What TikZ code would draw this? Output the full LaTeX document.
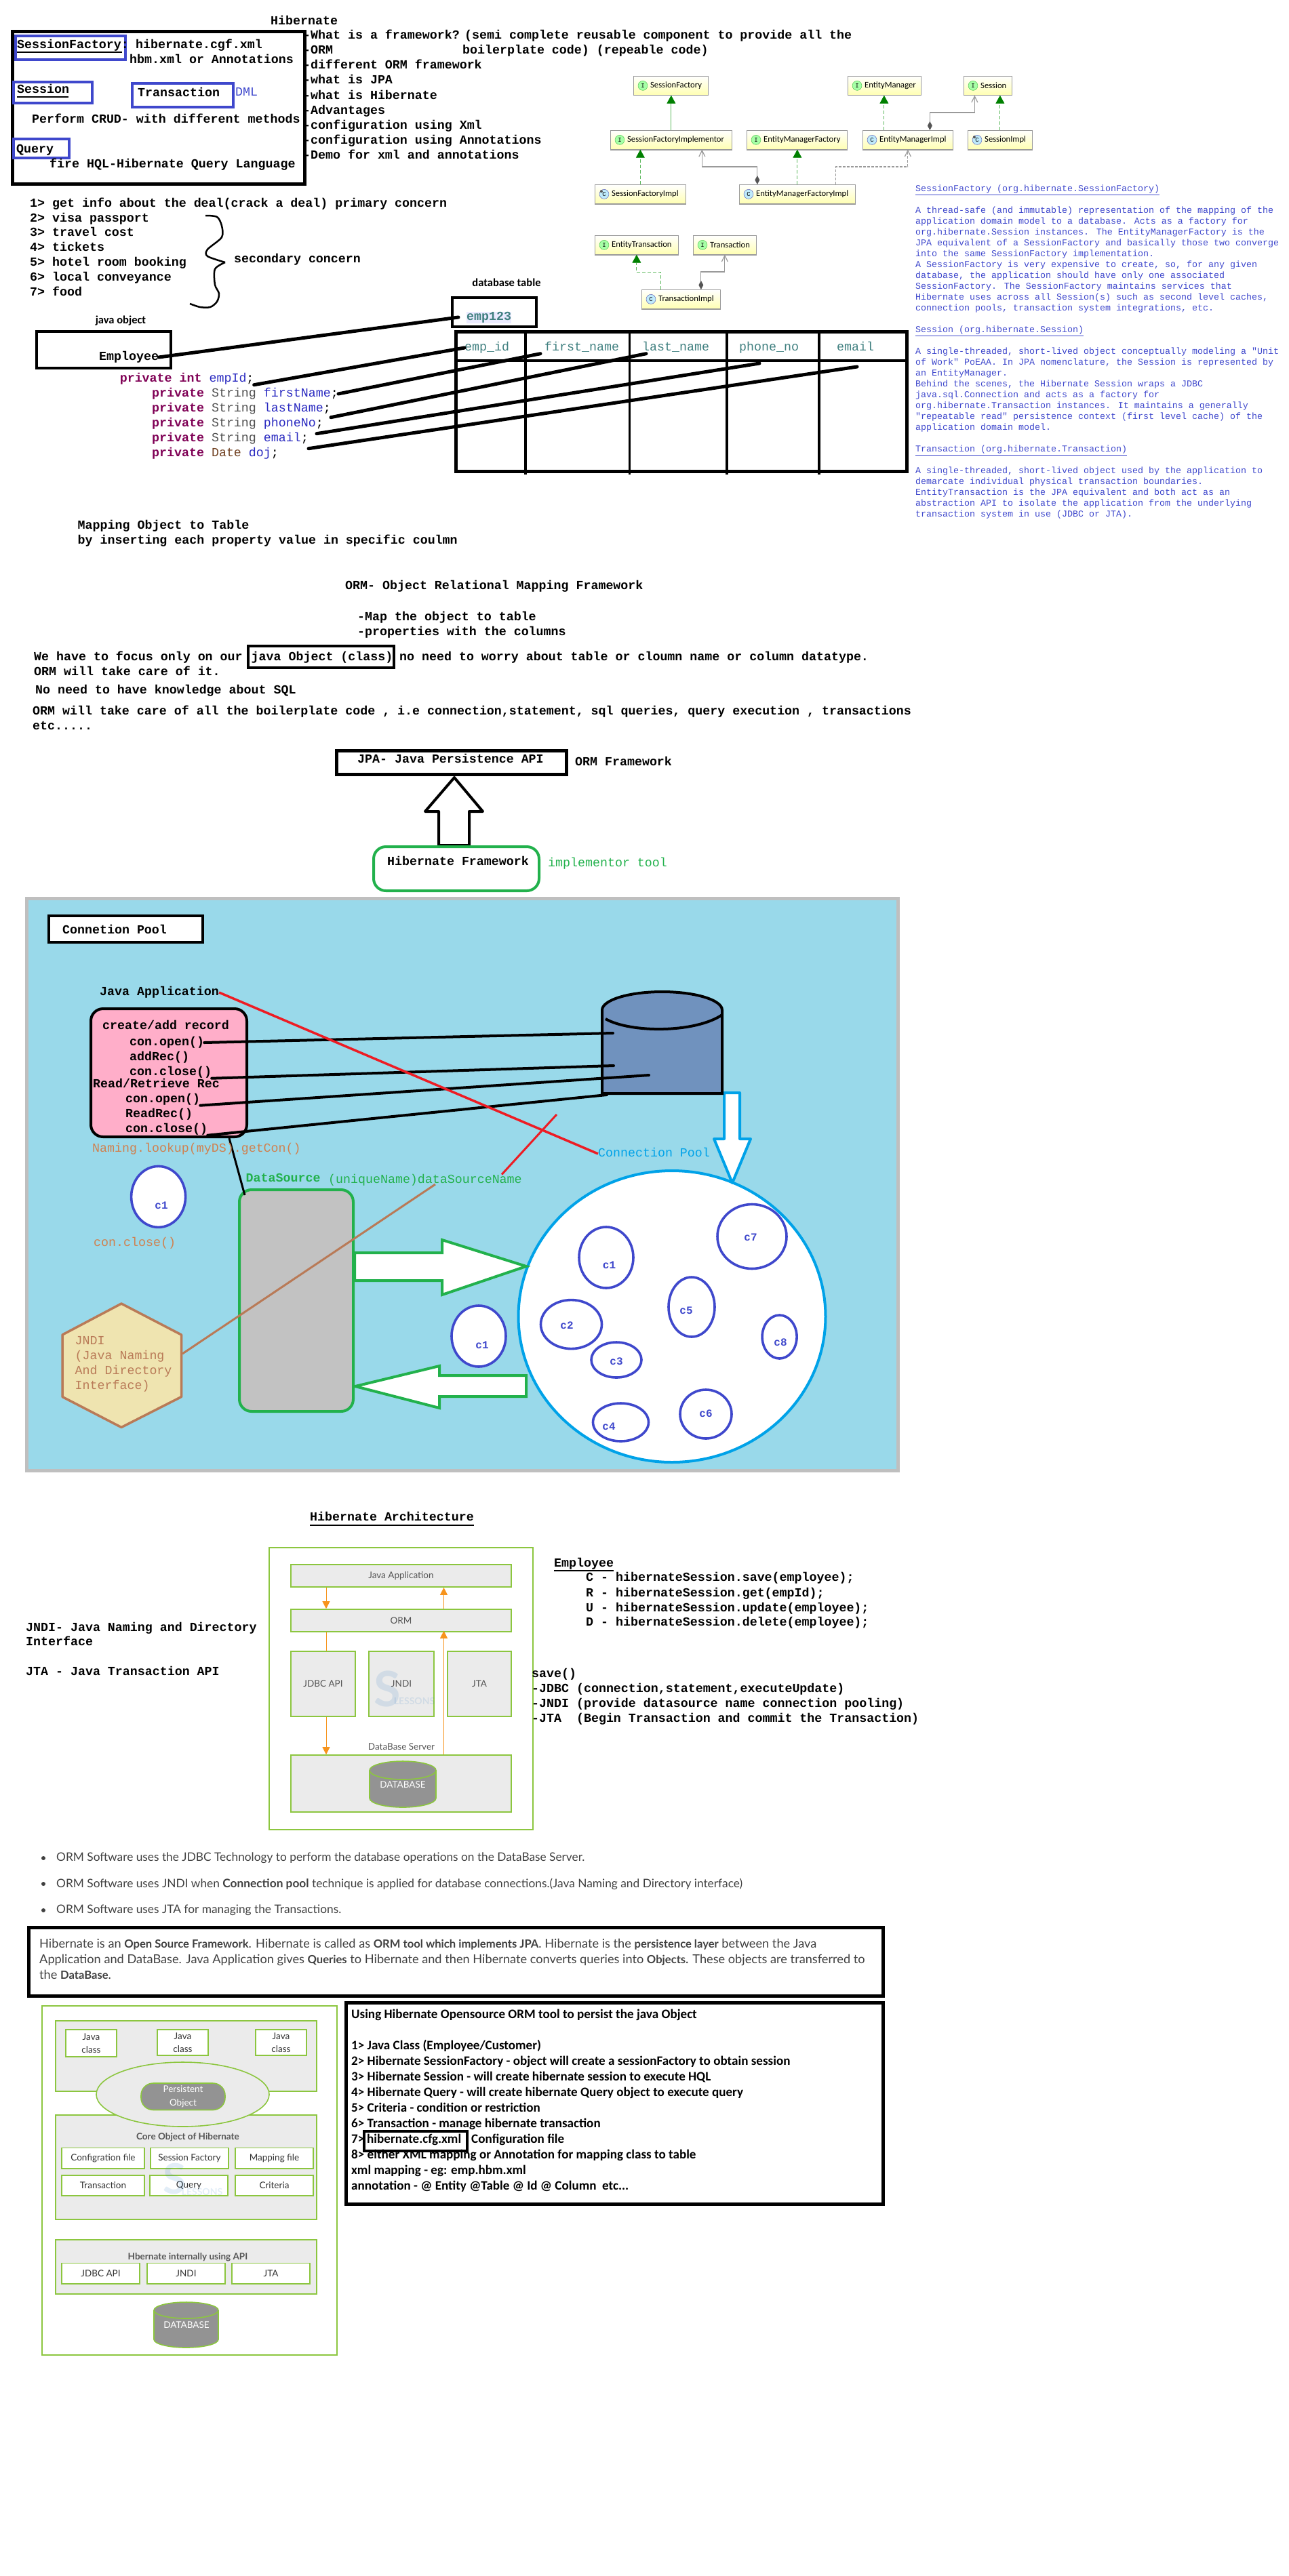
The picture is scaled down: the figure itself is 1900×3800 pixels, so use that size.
\documentclass[tikz,border=0pt]{standalone}
\usepackage{fontspec}
\usetikzlibrary{arrows.meta, shapes.geometric}
\newfontfamily\courfont{Liberation Mono}
\newfontfamily\calfont{Carlito}
\newfontfamily\latofont{Lato}
\newcommand{\sumbold}[1]{{\bfseries\fontsize{16.6}{20}\selectfont #1}}
\definecolor{markblue}{HTML}{3F48CC}
\definecolor{notegreen}{HTML}{22B14C}
\definecolor{poolblue}{HTML}{00A2E8}
\definecolor{poolback}{HTML}{99D9EA}
\definecolor{poolbrown}{HTML}{B97A57}
\definecolor{lookuptext}{HTML}{D0814F}
\definecolor{tealtext}{HTML}{3F7F7F}
\definecolor{javakw}{HTML}{7F0055}
\definecolor{javatype}{HTML}{505050}
\definecolor{javafield}{HTML}{2A2AC0}
\definecolor{javadate}{HTML}{704020}
\definecolor{umlline}{HTML}{5CB85C}
\definecolor{umlhead}{HTML}{008000}
\definecolor{umlgrey}{HTML}{9A9A9A}
\definecolor{umldark}{HTML}{555555}
\definecolor{slgreen}{HTML}{8CC63F}
\definecolor{slgrey}{HTML}{EBEBEB}
\definecolor{sldrum}{HTML}{939393}
\definecolor{slorange}{HTML}{F7941D}
\definecolor{bodygrey}{HTML}{404040}
\definecolor{drumblue}{HTML}{7092BE}
\definecolor{apppink}{HTML}{FFAEC9}
\definecolor{hexfill}{HTML}{EFE4B0}
\definecolor{crossred}{HTML}{ED1C24}
\tikzset{
  monotext/.style={inner sep=0pt, anchor=west, text height=13pt, text depth=4pt,
    font=\courfont\bfseries\fontsize{18.3}{22}\selectfont},
  javatext/.style={monotext, font=\courfont\fontsize{18.3}{22}\selectfont},
  coltext/.style={javatext, text=tealtext},
  heavybox/.style={draw, line width=5pt, inner sep=0pt},
  bluebox/.style={draw=markblue, line width=4.5pt, inner sep=0pt},
  heavyline/.style={line width=5pt, line cap=round},
  blacklink/.style={line width=4pt, line cap=round},
  smallhead/.style={inner sep=0pt, font=\calfont\bfseries\fontsize{16.5}{20}\selectfont},
  classbox/.style={draw=umlgrey, line width=.7pt, top color=white, bottom color=yellow!30,
    minimum height=28pt, inner sep=0pt, anchor=north west},
  classname/.style={inner sep=0pt, anchor=west, font=\calfont\fontsize{12.6}{16}\selectfont},
  iconI/.style={circle, draw=green!50!gray, fill=green!35!white, minimum size=14pt, inner sep=0pt,
    font=\courfont\fontsize{9}{9}\selectfont},
  iconC/.style={circle, draw=blue!40!gray, fill=cyan!25!white, minimum size=14pt, inner sep=0pt,
    font=\courfont\fontsize{9}{9}\selectfont},
  iconmark/.style={circle, fill=umldark, minimum size=4pt, inner sep=0pt},
  umlreal/.style={draw=umlline, line width=.8pt,
    -{Triangle[length=12pt,width=13pt,color=umlhead]}},
  umlimpl/.style={umlreal, dash pattern=on 5pt off 3pt},
  umlcomp/.style={draw=umlgrey, line width=1.2pt,
    {Diamond[length=13pt,width=7pt,color=umldark]}-{Straight Barb[length=9pt,width=9pt,color=umlgrey]}},
  umldep/.style={draw=umlgrey, line width=1.2pt, dash pattern=on 4pt off 2pt,
    -{Straight Barb[length=9pt,width=9pt,color=umlgrey]}},
  notetext/.style={inner sep=0pt, anchor=north west, align=left, text=markblue,
    font=\courfont\fontsize{13.33}{16}\selectfont},
  poolconn/.style={ellipse, draw=markblue, line width=3.6pt, fill=white, inner sep=0pt},
  poolname/.style={inner sep=0pt, text=markblue, font=\courfont\bfseries\fontsize{16}{18}\selectfont},
  slbox/.style={rectangle, draw=slgreen, line width=1.6pt, fill=slgrey, inner sep=0pt,
    text=umldark, font=\latofont\fontsize{13.5}{17}\selectfont},
  slwhite/.style={slbox, fill=white, text=black!80, align=center},
  sldrumline/.style={draw=slgreen, line width=1.6pt},
  sldrumtext/.style={inner sep=0pt, text=white, font=\latofont\fontsize{13.5}{17}\selectfont},
  slhead/.style={inner sep=0pt, text=umldark, font=\latofont\bfseries\fontsize{13.5}{17}\selectfont},
  slarrow/.style={draw=slorange, line width=1pt, -{Triangle[length=11pt,width=11pt,color=slorange]}},
  slmark/.style={inner sep=0pt, text=cyan!50!blue, text opacity=.12},
  bullettext/.style={inner sep=0pt, anchor=west, text=bodygrey,
    font=\latofont\fontsize{17.3}{20}\selectfont},
  summarytext/.style={bullettext, font=\latofont\fontsize{18.2}{20}\selectfont},
  stepline/.style={inner sep=0pt, anchor=west, text height=13pt, text depth=4pt,
    font=\calfont\bfseries\fontsize{19.1}{23}\selectfont},
}
\begin{document}
\begin{tikzpicture}[x=1pt,y=-1pt]
\useasboundingbox (0,0) rectangle (1900,3800);

% Top box with the core objects
\node[monotext] (mainTitle) at (399,32) {Hibernate};
\node[heavybox, minimum width=431pt, minimum height=225pt] (coreBox) at (234,159) {};
\node[bluebox, minimum width=162pt, minimum height=35pt] (factoryBox) at (104,70.5) {};
\node[bluebox, minimum width=116pt, minimum height=31pt] (sessionBox) at (78,136.5) {};
\node[bluebox, minimum width=149pt, minimum height=35pt] (transBox) at (269.5,140.5) {};
\node[bluebox, minimum width=82pt, minimum height=28pt] (queryBox) at (61,219) {};
\node[monotext] (factoryText) at (25,67) {SessionFactory:};
\draw[line width=1.6pt] (25,77) -- (180,77);
\node[monotext] (cfgText) at (200,67) {hibernate.cgf.xml};
\node[monotext] (hbmText) at (191,89) {hbm.xml or Annotations};
\node[monotext] (sessionText) at (25,133) {Session};
\draw[line width=1.6pt] (25,143) -- (101,143);
\node[monotext] (transText) at (203,138) {Transaction};
\node[javatext, text=markblue] (dmlText) at (347,137) {DML};
\node[monotext] (crudText) at (47,177) {Perform CRUD- with different methods};
\node[monotext] (queryText) at (24,221) {Query};
\node[monotext] (fireText) at (73,243) {fire HQL-Hibernate Query Language};

% Topics
\foreach \y/\txt [count=\i] in {53/{-What is a framework?},75/-ORM,97/-different ORM framework,
    119/-what is JPA,142/-what is Hibernate,164/-Advantages,186/-configuration using Xml,
    208/-configuration using Annotations,230/-Demo for xml and annotations}
  \node[monotext] (topic\i) at (447,\y) {\txt};
\node[monotext] (topicSemi) at (685,53) {(semi complete reusable component to provide all the};
\node[monotext] (topicBoiler) at (682,75) {boilerplate code) (repeable code)};

% Concerns
\foreach \y/\txt [count=\i] in {301/1> get info about the deal(crack a deal) primary concern,
    323/2> visa passport,344/3> travel cost,366/4> tickets,388/5> hotel room booking,
    410/6> local conveyance,432/7> food}
  \node[monotext] (concern\i) at (44,\y) {\txt};
\draw[line width=2.5pt] plot[smooth] coordinates {(303,318) (320,320) (327,333) (327,350) (306,368) (306,378) (332,387)};
\draw[line width=2.5pt] plot[smooth] coordinates {(332,387) (317,397) (317,420) (323,433) (320,445) (310,453) (295,453) (280,448)};
\node[monotext] (secondary) at (345,383) {secondary concern};

% Object to table
\node[smallhead] (dbHead) at (747,417) {database table};
\node[smallhead] (javaHead) at (178,473) {java object};
\node[heavybox, line width=4pt, minimum width=198pt, minimum height=54pt] (employeeBox) at (153,516) {};
\node[monotext] (employeeText) at (146,527) {Employee};
\node[heavybox, line width=4pt, minimum width=124pt, minimum height=43pt] (rowBox) at (729,460.5) {};
\node[monotext, fill=blue!8, text=tealtext] (rowText) at (688,468) {emp123};
\node[heavybox, minimum width=665pt, minimum height=206pt] (tableBox) at (1004.5,592) {};
\draw[line width=4.5pt] (672,532) -- (1339,532);
\foreach \x in {775,928.5,1072,1208}
  \draw[line width=3.5pt] (\x,489) -- (\x,700);
\foreach \nm/\x/\txt in {colId/685/emp\_id,colFirst/803/first\_name,colLast/947/last\_name,
    colPhone/1090/phone\_no,colMail/1234/email}
  \node[coltext] (\nm) at (\x,513) {\txt};
\node[javatext] (fieldId) at (176.6,559) {\textcolor{javakw}{\bfseries private int} \textcolor{javafield}{empId};};
\foreach \nm/\y/\txt in {fieldFirst/581/firstName,fieldLast/603/lastName,fieldPhone/625/phoneNo,fieldMail/647/email}
  \node[javatext] (\nm) at (224,\y) {\textcolor{javakw}{\bfseries private} \textcolor{javatype}{String} \textcolor{javafield}{\txt};};
\node[javatext] (fieldDate) at (224,669) {\textcolor{javakw}{\bfseries private} \textcolor{javadate}{Date} \textcolor{javafield}{doj};};
\coordinate (phoneEnd) at (1120,536);
\coordinate (mailEnd) at (1264,541);
\draw[heavyline] (employeeText.east) -- ([xshift=-12pt]rowText.west);
\draw[heavyline] (fieldId.south east) -- (colId.west);
\draw[heavyline] (fieldFirst.east) -- ([xshift=-6pt]colFirst.south west);
\draw[heavyline] ([yshift=-4pt]fieldLast.south east) -- ([xshift=6pt]colLast.south west);
\draw[heavyline] ([xshift=-10pt,yshift=-6pt]fieldPhone.south east) -- (phoneEnd);
\draw[heavyline] ([yshift=-6pt]fieldMail.south east) -- (mailEnd);
\node[monotext] (mapOne) at (114.5,776) {Mapping Object to Table};
\node[monotext] (mapTwo) at (114.5,798) {by inserting each property value in specific coulmn};

% Class diagram
\foreach \nm/\x/\y/\w/\kd/\txt in {sfac/934/112/110/I/SessionFactory,em/1250/112/108/I/EntityManager,
    sess/1421/112/71/I/Session,sfi/900/192/179/I/SessionFactoryImplementor,
    emf/1101/192/148/I/EntityManagerFactory,emi/1272/192/133/C/EntityManagerImpl,
    simpl/1427/192/95/C/SessionImpl,sfimpl/877/272/134/C/SessionFactoryImpl,
    emfi/1090/272/171/C/EntityManagerFactoryImpl,etx/877/347/123/I/EntityTransaction,
    tx/1022/347/93/I/Transaction,timpl/946/427/116/C/TransactionImpl} {
  \node[classbox, minimum width=\w pt] (\nm) at (\x,\y) {};
  \draw[umlgrey, line width=1.6pt] (\nm.south west) -- (\nm.south east);
  \node[icon\kd] (\nm Icon) at ([xshift=14pt]\nm.west) {\kd};
  \node[classname] (\nm Name) at ([xshift=25pt]\nm.west) {\txt};
}
\foreach \nm in {sfimpl,simpl}
  \node[iconmark] (\nm Mark) at ([shift={(1pt,-1pt)}]\nm Icon.north west) {};
\draw[umlreal] (sfi.north) -- (sfi.north |- sfac.south);
\draw[umlimpl] ([xshift=-35pt]emi.north) -- ([xshift=-35pt]emi.north |- em.south);
\draw[umlimpl] (simpl.north) -- (simpl.north |- sess.south);
\draw[umlimpl] (sfimpl.north) -- (sfimpl.north |- sfi.south);
\draw[umlimpl] (emfi.north) -- (emfi.north |- emf.south);
\draw[umlcomp] ([xshift=32.5pt]emi.north) -- ++(0,-26) -| ([xshift=-19.5pt]sess.south);
\draw[umlcomp] ([xshift=-59pt]emfi.north) -- ++(0,-26) -| ([xshift=45.5pt]sfi.south);
\draw[umldep] ([xshift=57pt]emfi.north) -- ++(0,-26) -| (emi.south);
\draw[umlimpl] ([xshift=-30pt]timpl.north) -- ++(0,-26) -| (etx.south);
\draw[umlcomp] ([xshift=29.5pt]timpl.north) -- ++(0,-26) -| (tx.south);

% Notes on the right
\node[notetext] (noteText) at (1350,273) {\underline{SessionFactory (org.hibernate.SessionFactory)}\\[16pt]
A thread-safe (and immutable) representation of the mapping of the\\
application domain model to a database. Acts as a factory for\\
org.hibernate.Session instances. The EntityManagerFactory is the\\
JPA equivalent of a SessionFactory and basically those two converge\\
into the same SessionFactory implementation.\\
A SessionFactory is very expensive to create, so, for any given\\
database, the application should have only one associated\\
SessionFactory. The SessionFactory maintains services that\\
Hibernate uses across all Session(s) such as second level caches,\\
connection pools, transaction system integrations, etc.\\[16pt]
\underline{Session (org.hibernate.Session)}\\[16pt]
A single-threaded, short-lived object conceptually modeling a "Unit\\
of Work" PoEAA. In JPA nomenclature, the Session is represented by\\
an EntityManager.\\
Behind the scenes, the Hibernate Session wraps a JDBC\\
java.sql.Connection and acts as a factory for\\
org.hibernate.Transaction instances. It maintains a generally\\
"repeatable read" persistence context (first level cache) of the\\
application domain model.\\[16pt]
\underline{Transaction (org.hibernate.Transaction)}\\[16pt]
A single-threaded, short-lived object used by the application to\\
demarcate individual physical transaction boundaries.\\
EntityTransaction is the JPA equivalent and both act as an\\
abstraction API to isolate the application from the underlying\\
transaction system in use (JDBC or JTA).};

% ORM text
\node[monotext] (ormTitle) at (509,865) {ORM- Object Relational Mapping Framework};
\node[monotext] (ormMap) at (527,911) {-Map the object to table};
\node[monotext] (ormProp) at (527,933) {-properties with the columns};
\node[monotext] (focusText) at (50,970) {We have to focus only on our};
\node[heavybox, line width=4.5pt, minimum width=215pt, minimum height=32pt] (javaObjBox) at (473.5,969) {};
\node[monotext] (javaObjText) at (370.5,970) {java Object (class)};
\node[monotext] (worryText) at (589,970) {no need to worry about table or cloumn name or column datatype.};
\node[monotext] (careText) at (50,992) {ORM will take care of it.};
\node[monotext] (sqlText) at (52,1019) {No need to have knowledge about SQL};
\node[monotext] (plateText) at (48,1050) {ORM will take care of all the boilerplate code , i.e connection,statement, sql queries, query execution , transactions};
\node[monotext] (etcText) at (48,1072) {etc.....};
\node[heavybox, minimum width=339pt, minimum height=35pt] (jpaBox) at (666,1125) {};
\node[monotext] (jpaText) at (527,1121) {JPA- Java Persistence API};
\node[monotext] (jpaNote) at (848,1125) {ORM Framework};
\draw[line width=4pt, fill=white, line join=round] (670,1147) -- (712,1197) -- (692,1197) -- (692,1247)
  -- (647,1247) -- (647,1197) -- (627,1197) -- cycle;
\node[draw=notegreen, line width=4pt, rounded corners=18pt, minimum width=244pt, minimum height=65pt, inner sep=0pt] (hibBox) at (673,1281.5) {};
\node[monotext] (hibText) at (571,1272) {Hibernate Framework};
\node[javatext, text=notegreen] (hibNote) at (808,1274) {implementor tool};

% Connection pool panel
\node[draw=black!25, line width=5pt, fill=poolback, minimum width=1285pt, minimum height=844pt, inner sep=0pt] (poolPanel) at (681.5,1747) {};
\node[heavybox, line width=4.5pt, fill=white, minimum width=227pt, minimum height=39pt] (poolTitleBox) at (185.5,1370.5) {};
\node[monotext] (poolTitle) at (92,1373) {Connetion Pool};
\node[draw=poolblue, line width=4pt, ellipse, fill=white, minimum width=453pt, minimum height=430pt, inner sep=0pt] (poolCircle) at (991,1942) {};
\foreach \nm/\x/\y/\w/\h/\tx/\ty/\txt in {conA/233.6/1765.4/80/90/238/1778/c1,conB/706/1971/80/90/711/1984/c1,
    conC/894/1855/80/90/898.5/1866/c1,conD/842.5/1953.6/90/72/836/1955/c2,conE/909/2006/74/52/909/2008/c3,
    conF/915.5/2098/82/56/898/2104/c4,conG/1020/1928/68/88/1012/1933/c5,conH/1041/2086/76/72/1041/2085/c6,
    conI/1109/1824/102/95/1107/1825/c7,conJ/1149.6/1972/51/64/1151/1980/c8} {
  \node[poolconn, minimum width=\w pt, minimum height=\h pt] (\nm) at (\x,\y) {};
  \node[poolname] (\nm Text) at (\tx,\ty) {\txt};
}
\draw[draw=poolblue, line width=4pt, fill=white, line join=round] (1068,1612) -- (1068,1680) -- (1053,1680)
  -- (1080,1745) -- (1107,1680) -- (1091,1680) -- (1091,1612) -- cycle;
\draw[draw=notegreen, line width=4pt, fill=white] (523,1848) -- (652,1848) -- (652,1829) -- (776,1868)
  -- (652,1910) -- (652,1889) -- (523,1889) -- cycle;
\draw[draw=notegreen, line width=4pt, fill=white] (776,2029) -- (648,2029) -- (648,2015) -- (524,2045)
  -- (648,2077) -- (648,2060) -- (776,2060) -- cycle;
\node[draw=notegreen, line width=4pt, fill=black!24, rounded corners=18pt, minimum width=168pt, minimum height=327pt, inner sep=0pt] (dsBox) at (437,1918.5) {};

% Database drum
\draw[line width=4pt, fill=drumblue] (888,1490) -- (888,1613) -- (1065,1613) -- (1065,1490)
  arc[start angle=0, end angle=180, x radius=88.5pt, y radius=27pt] -- cycle;
\draw[line width=4pt] (893,1503) .. controls (930,1524) and (1025,1524) .. (1065,1497);
\coordinate (drumA) at (904,1524);
\coordinate (drumB) at (905,1572);
\coordinate (drumC) at (957,1586);
\coordinate (drumD) at (895,1615);

% Application box
\node[draw, line width=4pt, fill=apppink, rounded corners=18pt, minimum width=230pt, minimum height=189pt, inner sep=0pt] (appBox) at (249,1582.5) {};
\node[monotext] (appTitle) at (147,1464) {Java Application};
\foreach \nm/\x/\y/\txt in {addTitle/151/1514/{create/add record},openA/191/1538/con.open(),addRec/191/1560/addRec(),
    closeA/191/1582/con.close(),readTitle/137/1600/{Read/Retrieve Rec},openB/185/1622/con.open(),
    readRec/185/1644/ReadRec(),closeB/185/1666/con.close()}
  \node[monotext] (\nm) at (\x,\y) {\txt};
\draw[blacklink] (openA.east) -- (drumA);
\draw[blacklink] (closeA.south east) -- (drumB);
\draw[blacklink] (openB.south east) -- (drumC);
\draw[blacklink] (closeB.south east) -- (drumD);
\draw[line width=3pt] (338,1679) -- (361,1763);

% Labels and red marks
\node[javatext, text=lookuptext] (lookupText) at (136,1695) {Naming.lookup(myDS).getCon()};
\node[javatext, text=lookuptext] (closeText) at (138,1834) {con.close()};
\node[monotext, text=notegreen] (dsText) at (362.5,1738.5) {DataSource};
\node[javatext, text=notegreen] (dsName) at (484,1741) {(uniqueName)dataSourceName};
\node[javatext, text=poolblue] (poolName) at (882,1702) {Connection Pool};
\draw[draw=crossred, line width=3.5pt] (appTitle.east) -- (poolName.west);
\coordinate (strikeEnd) at (821,1644);
\coordinate (strikeStart) at (740,1732.5);
\draw[draw=crossred, line width=3pt] (strikeStart) -- (strikeEnd);
\draw[draw=poolbrown, line width=3.5pt, fill=hexfill, line join=round] (179,1923) -- (267.5,1969) -- (267.5,2060.5)
  -- (179,2105.5) -- (92,2060.5) -- (92,1969) -- cycle;
\coordinate (hexEnd) at (269,1997);
\coordinate (nameEnd) at (642,1747);
\draw[draw=poolbrown, line width=3pt] (hexEnd) -- (nameEnd);
\foreach \y/\txt [count=\i] in {1979/JNDI,2001/(Java Naming,2023/And Directory,2045/Interface)}
  \node[javatext, text=poolbrown] (jndiLine\i) at (110.5,\y) {\txt};

% Hibernate architecture
\node[monotext] (archTitle) at (457,2239) {Hibernate Architecture};
\draw[line width=2pt] (archTitle.west |- 0,2250) -- (archTitle.east |- 0,2250);
\node[draw=slgreen, line width=1.6pt, minimum width=389pt, minimum height=416pt, inner sep=0pt] (archOuter) at (591.5,2491) {};
\node[slbox, minimum width=325pt, minimum height=33pt] (japp) at (591.5,2324.5) {Java Application};
\node[slbox, minimum width=325pt, minimum height=33pt] (ormbox) at (591.5,2390.5) {ORM};
\node[slbox, minimum width=95pt, minimum height=96pt] (jdbcbox) at (476.5,2484) {JDBC API};
\node[slbox, minimum width=96pt, minimum height=96pt] (jndibox) at (592,2484) {JNDI};
\node[slbox, minimum width=94pt, minimum height=96pt] (jtabox) at (707,2484) {JTA};
\node[slbox, minimum width=325pt, minimum height=84pt] (dbbox) at (591.5,2631) {};
\node[inner sep=0pt, text=umldark, font=\latofont\fontsize{13.5}{17}\selectfont] (dbServer) at (592,2577) {DataBase Server};
\draw[sldrumline, fill=sldrum] (545,2611.5) -- (545,2652.5) arc[start angle=180, end angle=360, x radius=49pt, y radius=13.5pt]
  -- (643,2611.5) arc[start angle=0, end angle=180, x radius=49pt, y radius=13.5pt] -- cycle;
\draw[sldrumline] (545,2611.5) arc[start angle=180, end angle=360, x radius=49pt, y radius=13.5pt];
\node[sldrumtext] (dbDrum) at (594,2633) {DATABASE};
\node[slmark, font=\latofont\bfseries\fontsize{72}{72}\selectfont] (markS) at (571,2491) {S};
\node[slmark, font=\latofont\bfseries\fontsize{14}{14}\selectfont] (markL) at (611,2509) {LESSONS};
\draw[slarrow] ([xshift=-110.5pt]japp.south) -- ([xshift=-110.5pt]ormbox.north);
\draw[slarrow] ([xshift=63pt]ormbox.north) -- ([xshift=63pt]japp.south);
\draw[draw=slorange, line width=1pt] ([xshift=-110.5pt]ormbox.south) -- ([xshift=4.5pt]jdbcbox.north);
\draw[slarrow] ([xshift=4.5pt]jdbcbox.south) -- ([xshift=-110.5pt]dbbox.north);
\draw[slarrow] ([xshift=63pt]dbbox.north) -- ([xshift=63pt,yshift=2pt]ormbox.south);
\node[monotext] (empHead) at (817,2307) {Employee};
\draw[line width=2pt] (empHead.west |- 0,2317) -- (empHead.east |- 0,2317);
\foreach \y/\txt [count=\i] in {2328/C - hibernateSession.save(employee);,2351/R - hibernateSession.get(empId);,
    2373/U - hibernateSession.update(employee);,2394/D - hibernateSession.delete(employee);}
  \node[monotext] (crud\i) at (864,\y) {\txt};
\node[monotext] (jndiNoteA) at (38,2402) {JNDI- Java Naming and Directory};
\node[monotext] (jndiNoteB) at (38,2423) {Interface};
\node[monotext] (jtaNote) at (38,2467) {JTA - Java Transaction API};
\node[monotext] (saveHead) at (784,2470) {save()};
\node[monotext] (saveA) at (784,2492) {-JDBC (connection,statement,executeUpdate)};
\node[monotext] (saveB) at (784,2514) {-JNDI (provide datasource name connection pooling)};
\node[monotext] (saveC) at (784,2536) {-JTA\ \ (Begin Transaction and commit the Transaction)};

% Bullets
\foreach \y/\txt [count=\i] in {2741/ORM Software uses the JDBC Technology to perform the database operations on the DataBase Server.,
    2779/ORM Software uses JNDI when \textbf{Connection pool} technique is applied for database connections.(Java Naming and Directory interface),
    2818/ORM Software uses JTA for managing the Transactions.} {
  \node[circle, fill=black!75, minimum size=6pt, inner sep=0pt] (dot\i) at (64,\y) {};
  \node[bullettext] (point\i) at (83,\y) {\txt};
}
\node[heavybox, minimum width=1260pt, minimum height=101pt] (summaryBox) at (672.5,2894) {};
\node[summarytext] (summaryA) at (58,2868) {Hibernate is an \sumbold{Open Source Framework}. Hibernate is called as \sumbold{ORM tool which implements JPA}. Hibernate is the \sumbold{persistence layer} between the Java};
\node[summarytext] (summaryB) at (58,2891) {Application and DataBase. Java Application gives \sumbold{Queries} to Hibernate and then Hibernate converts queries into \sumbold{Objects.} These objects are transferred to};
\node[summarytext] (summaryC) at (58,2913) {the \sumbold{DataBase}.};

% Core objects figure
\node[draw=slgreen, line width=1.6pt, minimum width=435pt, minimum height=515pt, inner sep=0pt] (coreOuter) at (279.5,3216.5) {};
\node[slbox, minimum width=385pt, minimum height=104pt] (layerA) at (274.5,3033) {};
\node[slbox, minimum width=385pt, minimum height=154pt] (layerB) at (274.5,3197) {};
\node[slbox, minimum width=385pt, minimum height=80pt] (layerC) at (274.5,3344) {};
\node[slbox, ellipse, minimum width=255pt, minimum height=95pt] (persistOval) at (269.5,3089.5) {};
\node[slbox, rounded corners=18pt, fill=sldrum, text=white, align=center, minimum width=124pt, minimum height=39.5pt, font=\latofont\fontsize{13.5}{19.5}\selectfont] (persistBox) at (270,3092.75) {Persistent\\Object};
\foreach \nm/\x/\y/\w/\h in {classA/134.5/3014/75/40,classB/269.5/3013/75/38,classC/414.5/3013/75/38}
  \node[slwhite, minimum width=\w pt, minimum height=\h pt, font=\latofont\fontsize{13.5}{19}\selectfont] (\nm) at (\x,\y) {Java\\class};
\node[slhead] (coreHead) at (277,3153) {Core Object of Hibernate};
\node[slhead] (apiHead) at (277,3330) {Hbernate internally using API};
\foreach \nm/\x/\y/\w/\txt in {cfgCell/152/3183.75/122/Configration file,factoryCell/279.5/3183.75/115/Session Factory,
    mapCell/404.5/3183.75/115/Mapping file,txCell/152/3224/122/Transaction,queryCell/278.5/3224/115/Query,
    critCell/404.5/3224/115/Criteria,jdbcCell/148.5/3353.75/115/JDBC API,jndiCell/274.5/3353.75/115/JNDI,
    jtaCell/399.5/3353.75/115/JTA}
  \node[slwhite, minimum width=\w pt, minimum height=30.5pt] (\nm) at (\x,\y) {\txt};
\draw[sldrumline, fill=sldrum] (227,3408) -- (227,3451) arc[start angle=180, end angle=360, x radius=47.5pt, y radius=12pt]
  -- (322,3408) arc[start angle=0, end angle=180, x radius=47.5pt, y radius=12pt] -- cycle;
\draw[sldrumline] (227,3408) arc[start angle=180, end angle=360, x radius=47.5pt, y radius=12pt];
\node[sldrumtext] (coreDrum) at (275,3430) {DATABASE};
\node[slmark, font=\latofont\bfseries\fontsize{62}{62}\selectfont] (markSb) at (258,3214) {S};
\node[slmark, font=\latofont\bfseries\fontsize{14}{14}\selectfont] (markLb) at (298,3233) {LESSONS};

% Steps box
\foreach \nm/\y/\txt in {stepHead/2973/Using Hibernate Opensource ORM tool to persist the java Object,
    stepA/3019/{1> Java Class (Employee/Customer)},
    stepB/3042/2> Hibernate SessionFactory - object will create a sessionFactory to obtain session,
    stepC/3065/3> Hibernate Session - will create hibernate session to execute HQL,
    stepD/3088/4> Hibernate Query - will create hibernate Query object to execute query,
    stepE/3111/5> Criteria - condition or restriction,
    stepF/3134/6> Transaction - manage hibernate transaction,
    stepG/3157/7>,
    stepH/3180/8> either XML mapping or Annotation for mapping class to table,
    stepI/3203/xml mapping - eg: emp.hbm.xml}
  \node[stepline] (\nm) at (518,\y) {\txt};
\node[stepline] (stepJ) at (518,3226) {annotation - @ Entity @Table @ Id @ Column\ \ etc...};
\node[stepline] (stepCfg) at (541,3157) {hibernate.cfg.xml};
\node[stepline] (stepCfgNote) at (695,3157) {Configuration file};
\node[heavybox, line width=4pt, minimum width=152pt, minimum height=29pt] (cfgBox) at (613,3158.5) {};
\node[heavybox, minimum width=792pt, minimum height=297pt] (stepBox) at (906.5,3103) {};
\end{tikzpicture}
\end{document}
